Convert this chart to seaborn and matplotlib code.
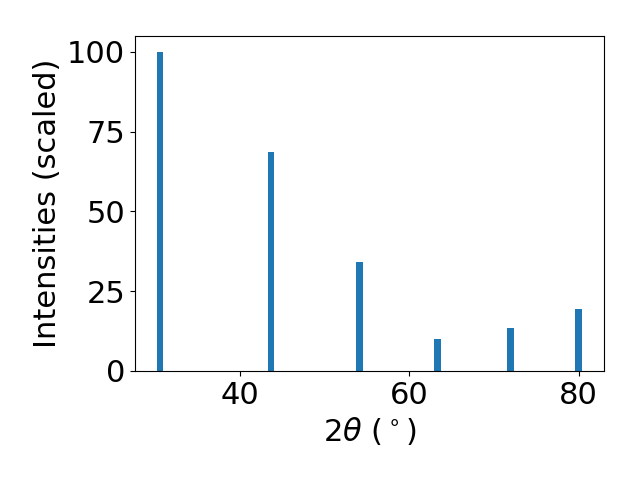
import matplotlib
matplotlib.use("Agg")
import matplotlib.pyplot as plt
import seaborn as sns
import pandas as pd
import numpy as np

two_theta = [30.5, 43.63, 54.12, 63.35, 71.92, 80.02]
intensities = [100.0, 68.7, 34.2, 10.0, 13.5, 19.4]

sns.set_style("ticks")
plt.rcParams['font.family'] = ['DejaVu Sans']
plt.rcParams['text.color'] = 'black'
plt.rcParams['axes.labelcolor'] = 'black'
plt.rcParams['xtick.color'] = 'black'
plt.rcParams['ytick.color'] = 'black'

df = pd.DataFrame({"two_theta": two_theta, "intensity": intensities})
min_gap = np.min(np.diff(sorted(two_theta)))

fig = plt.figure(figsize=(6.4, 4.8), dpi=100)
ax = fig.add_axes([135 / 640, 109 / 480, 469.3 / 640, 335 / 480])
sns.barplot(data=df, x="two_theta", y="intensity", native_scale=True,
            width=0.8 / min_gap, color="#1f77b4", saturation=1,
            errorbar=None, ax=ax, linewidth=0)
ax.set_xlim(27.55, 83.05)
ax.set_ylim(0, 105)
ax.set_xticks([40, 60, 80])
ax.set_yticks([0, 25, 50, 75, 100])
ax.set_xlabel(r"$2\theta$ ($^\circ$)", fontsize=22, color="black")
ax.set_ylabel("Intensities (scaled)", fontsize=22, color="black")
ax.tick_params(labelsize=22, width=0.8, length=3.5, color="black", labelcolor="black")
for s in ax.spines.values():
    s.set_visible(True)
    s.set_color("black")
    s.set_linewidth(0.8)
fig.savefig("out.png", dpi=100)
